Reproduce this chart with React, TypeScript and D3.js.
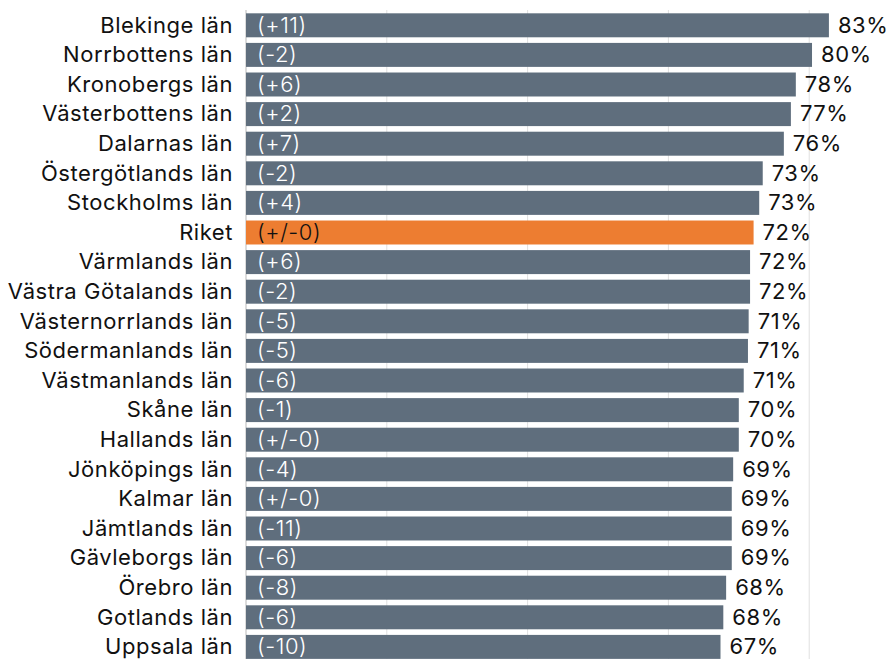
import React from 'react';
import * as d3 from 'd3';

const regions = [
  'Blekinge län', 'Norrbottens län', 'Kronobergs län', 'Västerbottens län', 'Dalarnas län',
  'Östergötlands län', 'Stockholms län', 'Riket', 'Värmlands län', 'Västra Götalands län',
  'Västernorrlands län', 'Södermanlands län', 'Västmanlands län', 'Skåne län', 'Hallands län',
  'Jönköpings län', 'Kalmar län', 'Jämtlands län', 'Gävleborgs län', 'Örebro län',
  'Gotlands län', 'Uppsala län',
];
const shares = [
  0.828, 0.804, 0.781, 0.774, 0.764, 0.734, 0.729, 0.721, 0.716, 0.716, 0.714,
  0.713, 0.707, 0.700, 0.700, 0.692, 0.690, 0.690, 0.690, 0.682, 0.678, 0.674,
];
const changes = [
  '(+11)', '(-2)', '(+6)', '(+2)', '(+7)', '(-2)', '(+4)', '(+/-0)', '(+6)', '(-2)', '(-5)',
  '(-5)', '(-6)', '(-1)', '(+/-0)', '(-4)', '(+/-0)', '(-11)', '(-6)', '(-8)', '(-6)', '(-10)',
];
const gridTicks = [0, 0.2, 0.4, 0.6, 0.8];

const W = 888;
const H = 659;
const FONT = 'Inter, "Noto Sans", sans-serif';

export default function App() {
  const x = d3.scaleLinear().domain([0, 1]).range([246, 950]);
  const y = d3.scaleBand<string>()
    .domain(regions)
    .range([10.5, 661.7])
    .paddingInner(0.19)
    .paddingOuter(0.095);
  const fmt = d3.format('.0%');

  return (
    <svg width={W} height={H} style={{ position: 'absolute', left: 0, top: 0, background: '#fff' }}>
      {gridTicks.map(t => (
        <line key={t} x1={x(t)} x2={x(t)} y1={10} y2={H}
          stroke={t === 0 ? '#d0d0d0' : '#e0e0e0'} strokeWidth={t === 0 ? 1.5 : 1} />
      ))}
      {regions.map((r, i) => {
        const yy = y(r) as number;
        const bh = y.bandwidth();
        const riket = r === 'Riket';
        return (
          <g key={r} fontFamily={FONT} fontSize={22} letterSpacing={0.55}>
            <rect x={x(0)} y={yy} width={x(shares[i]) - x(0)} height={bh}
              fill={riket ? '#ed7d31' : '#5f6e7d'} />
            <text x={233} y={yy + bh / 2} dy="0.33em" textAnchor="end" fill="#111">{r}</text>
            <text x={x(0) + 11} y={yy + bh / 2} dy="0.33em" fill={riket ? '#111' : '#fff'}
              fontWeight={300}>{changes[i]}</text>
            <text x={x(shares[i]) + 9} y={yy + bh / 2} dy="0.33em" fill="#111">{fmt(shares[i])}</text>
          </g>
        );
      })}
    </svg>
  );
}
